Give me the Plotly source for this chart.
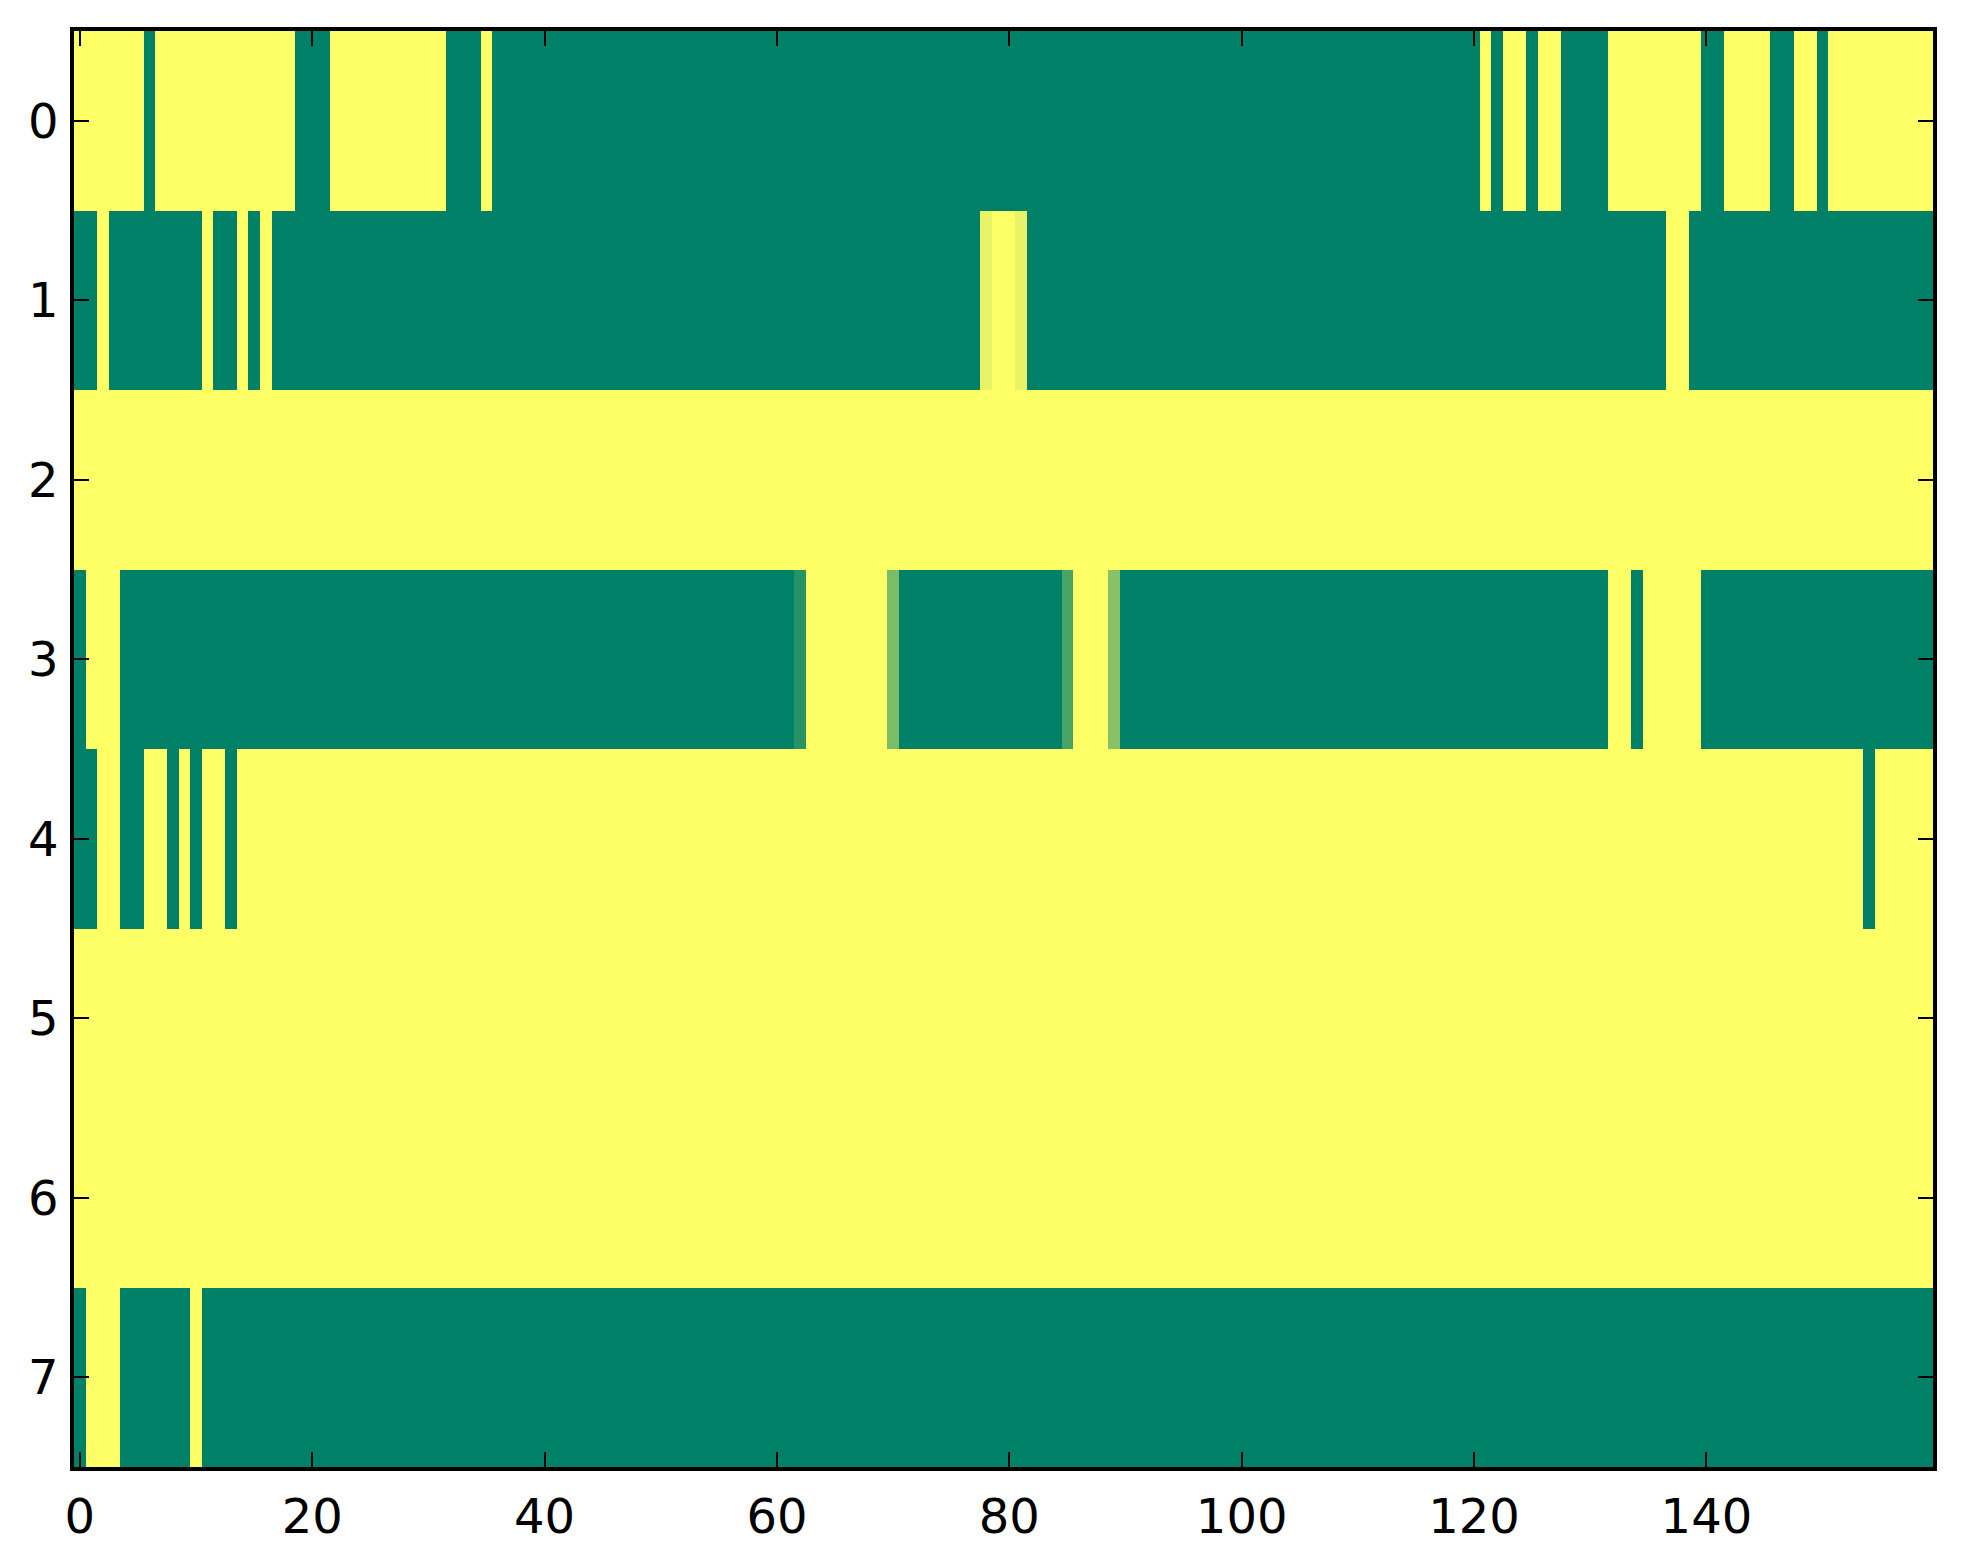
import plotly.graph_objects as go

# Column indices and row labels
columns = list(range(160))
rows = list(range(8))
x_tick_vals = [0, 20, 40, 60, 80, 100, 120, 140]
x_tick_text = ["0", "20", "40", "60", "80", "100", "120", "140"]
y_tick_vals = [0, 1, 2, 3, 4, 5, 6, 7]
y_tick_text = ["0", "1", "2", "3", "4", "5", "6", "7"]

# Cell values (0 = dark green, 1 = yellow), 20 columns per line
row0 = [1, 1, 1, 1, 1, 1, 0, 1, 1, 1, 1, 1, 1, 1, 1, 1, 1, 1, 1, 0,
        0, 0, 1, 1, 1, 1, 1, 1, 1, 1, 1, 1, 0, 0, 0, 1, 0, 0, 0, 0,
        0, 0, 0, 0, 0, 0, 0, 0, 0, 0, 0, 0, 0, 0, 0, 0, 0, 0, 0, 0,
        0, 0, 0, 0, 0, 0, 0, 0, 0, 0, 0, 0, 0, 0, 0, 0, 0, 0, 0, 0,
        0, 0, 0, 0, 0, 0, 0, 0, 0, 0, 0, 0, 0, 0, 0, 0, 0, 0, 0, 0,
        0, 0, 0, 0, 0, 0, 0, 0, 0, 0, 0, 0, 0, 0, 0, 0, 0, 0, 0, 0,
        0, 1, 0, 1, 1, 0, 1, 1, 0, 0, 0, 0, 1, 1, 1, 1, 1, 1, 1, 1,
        0, 0, 1, 1, 1, 1, 0, 0, 1, 1, 0, 1, 1, 1, 1, 1, 1, 1, 1, 1]

row1 = [0, 0, 1, 0, 0, 0, 0, 0, 0, 0, 0, 1, 0, 0, 1, 0, 1, 0, 0, 0,
        0, 0, 0, 0, 0, 0, 0, 0, 0, 0, 0, 0, 0, 0, 0, 0, 0, 0, 0, 0,
        0, 0, 0, 0, 0, 0, 0, 0, 0, 0, 0, 0, 0, 0, 0, 0, 0, 0, 0, 0,
        0, 0, 0, 0, 0, 0, 0, 0, 0, 0, 0, 0, 0, 0, 0, 0, 0, 0, 0.91, 1,
        1, 0.91, 0, 0, 0, 0, 0, 0, 0, 0, 0, 0, 0, 0, 0, 0, 0, 0, 0, 0,
        0, 0, 0, 0, 0, 0, 0, 0, 0, 0, 0, 0, 0, 0, 0, 0, 0, 0, 0, 0,
        0, 0, 0, 0, 0, 0, 0, 0, 0, 0, 0, 0, 0, 0, 0, 0, 0, 1, 1, 0,
        0, 0, 0, 0, 0, 0, 0, 0, 0, 0, 0, 0, 0, 0, 0, 0, 0, 0, 0, 0]

row2 = [1, 1, 1, 1, 1, 1, 1, 1, 1, 1, 1, 1, 1, 1, 1, 1, 1, 1, 1, 1,
        1, 1, 1, 1, 1, 1, 1, 1, 1, 1, 1, 1, 1, 1, 1, 1, 1, 1, 1, 1,
        1, 1, 1, 1, 1, 1, 1, 1, 1, 1, 1, 1, 1, 1, 1, 1, 1, 1, 1, 1,
        1, 1, 1, 1, 1, 1, 1, 1, 1, 1, 1, 1, 1, 1, 1, 1, 1, 1, 1, 1,
        1, 1, 1, 1, 1, 1, 1, 1, 1, 1, 1, 1, 1, 1, 1, 1, 1, 1, 1, 1,
        1, 1, 1, 1, 1, 1, 1, 1, 1, 1, 1, 1, 1, 1, 1, 1, 1, 1, 1, 1,
        1, 1, 1, 1, 1, 1, 1, 1, 1, 1, 1, 1, 1, 1, 1, 1, 1, 1, 1, 1,
        1, 1, 1, 1, 1, 1, 1, 1, 1, 1, 1, 1, 1, 1, 1, 1, 1, 1, 1, 1]

row3 = [0, 1, 1, 1, 0, 0, 0, 0, 0, 0, 0, 0, 0, 0, 0, 0, 0, 0, 0, 0,
        0, 0, 0, 0, 0, 0, 0, 0, 0, 0, 0, 0, 0, 0, 0, 0, 0, 0, 0, 0,
        0, 0, 0, 0, 0, 0, 0, 0, 0, 0, 0, 0, 0, 0, 0, 0, 0, 0, 0, 0,
        0, 0, 0.15, 1, 1, 1, 1, 1, 1, 1, 0.48, 0, 0, 0, 0, 0, 0, 0, 0, 0,
        0, 0, 0, 0, 0, 0.28, 1, 1, 1, 0.53, 0, 0, 0, 0, 0, 0, 0, 0, 0, 0,
        0, 0, 0, 0, 0, 0, 0, 0, 0, 0, 0, 0, 0, 0, 0, 0, 0, 0, 0, 0,
        0, 0, 0, 0, 0, 0, 0, 0, 0, 0, 0, 0, 1, 1, 0, 1, 1, 1, 1, 1,
        0, 0, 0, 0, 0, 0, 0, 0, 0, 0, 0, 0, 0, 0, 0, 0, 0, 0, 0, 0]

row4 = [0, 0, 1, 1, 0, 0, 1, 1, 0, 1, 0, 1, 1, 0, 1, 1, 1, 1, 1, 1,
        1, 1, 1, 1, 1, 1, 1, 1, 1, 1, 1, 1, 1, 1, 1, 1, 1, 1, 1, 1,
        1, 1, 1, 1, 1, 1, 1, 1, 1, 1, 1, 1, 1, 1, 1, 1, 1, 1, 1, 1,
        1, 1, 1, 1, 1, 1, 1, 1, 1, 1, 1, 1, 1, 1, 1, 1, 1, 1, 1, 1,
        1, 1, 1, 1, 1, 1, 1, 1, 1, 1, 1, 1, 1, 1, 1, 1, 1, 1, 1, 1,
        1, 1, 1, 1, 1, 1, 1, 1, 1, 1, 1, 1, 1, 1, 1, 1, 1, 1, 1, 1,
        1, 1, 1, 1, 1, 1, 1, 1, 1, 1, 1, 1, 1, 1, 1, 1, 1, 1, 1, 1,
        1, 1, 1, 1, 1, 1, 1, 1, 1, 1, 1, 1, 1, 1, 0, 1, 1, 1, 1, 1]

row5 = [1, 1, 1, 1, 1, 1, 1, 1, 1, 1, 1, 1, 1, 1, 1, 1, 1, 1, 1, 1,
        1, 1, 1, 1, 1, 1, 1, 1, 1, 1, 1, 1, 1, 1, 1, 1, 1, 1, 1, 1,
        1, 1, 1, 1, 1, 1, 1, 1, 1, 1, 1, 1, 1, 1, 1, 1, 1, 1, 1, 1,
        1, 1, 1, 1, 1, 1, 1, 1, 1, 1, 1, 1, 1, 1, 1, 1, 1, 1, 1, 1,
        1, 1, 1, 1, 1, 1, 1, 1, 1, 1, 1, 1, 1, 1, 1, 1, 1, 1, 1, 1,
        1, 1, 1, 1, 1, 1, 1, 1, 1, 1, 1, 1, 1, 1, 1, 1, 1, 1, 1, 1,
        1, 1, 1, 1, 1, 1, 1, 1, 1, 1, 1, 1, 1, 1, 1, 1, 1, 1, 1, 1,
        1, 1, 1, 1, 1, 1, 1, 1, 1, 1, 1, 1, 1, 1, 1, 1, 1, 1, 1, 1]

row6 = [1, 1, 1, 1, 1, 1, 1, 1, 1, 1, 1, 1, 1, 1, 1, 1, 1, 1, 1, 1,
        1, 1, 1, 1, 1, 1, 1, 1, 1, 1, 1, 1, 1, 1, 1, 1, 1, 1, 1, 1,
        1, 1, 1, 1, 1, 1, 1, 1, 1, 1, 1, 1, 1, 1, 1, 1, 1, 1, 1, 1,
        1, 1, 1, 1, 1, 1, 1, 1, 1, 1, 1, 1, 1, 1, 1, 1, 1, 1, 1, 1,
        1, 1, 1, 1, 1, 1, 1, 1, 1, 1, 1, 1, 1, 1, 1, 1, 1, 1, 1, 1,
        1, 1, 1, 1, 1, 1, 1, 1, 1, 1, 1, 1, 1, 1, 1, 1, 1, 1, 1, 1,
        1, 1, 1, 1, 1, 1, 1, 1, 1, 1, 1, 1, 1, 1, 1, 1, 1, 1, 1, 1,
        1, 1, 1, 1, 1, 1, 1, 1, 1, 1, 1, 1, 1, 1, 1, 1, 1, 1, 1, 1]

row7 = [0, 1, 1, 1, 0, 0, 0, 0, 0, 0, 1, 0, 0, 0, 0, 0, 0, 0, 0, 0,
        0, 0, 0, 0, 0, 0, 0, 0, 0, 0, 0, 0, 0, 0, 0, 0, 0, 0, 0, 0,
        0, 0, 0, 0, 0, 0, 0, 0, 0, 0, 0, 0, 0, 0, 0, 0, 0, 0, 0, 0,
        0, 0, 0, 0, 0, 0, 0, 0, 0, 0, 0, 0, 0, 0, 0, 0, 0, 0, 0, 0,
        0, 0, 0, 0, 0, 0, 0, 0, 0, 0, 0, 0, 0, 0, 0, 0, 0, 0, 0, 0,
        0, 0, 0, 0, 0, 0, 0, 0, 0, 0, 0, 0, 0, 0, 0, 0, 0, 0, 0, 0,
        0, 0, 0, 0, 0, 0, 0, 0, 0, 0, 0, 0, 0, 0, 0, 0, 0, 0, 0, 0,
        0, 0, 0, 0, 0, 0, 0, 0, 0, 0, 0, 0, 0, 0, 0, 0, 0, 0, 0, 0]

z = [row0, row1, row2, row3, row4, row5, row6, row7]

# matplotlib "summer" colormap
summer = [[0.0, "rgb(0,128,102)"], [1.0, "rgb(255,255,102)"]]

fig = go.Figure(
    go.Heatmap(
        z=z,
        x=columns,
        y=rows,
        colorscale=summer,
        zmin=0,
        zmax=1,
        showscale=False,
        zsmooth=False,
        hoverinfo="x+y+z",
    )
)

axis_common = dict(
    showgrid=False,
    zeroline=False,
    showline=True,
    linecolor="black",
    linewidth=3.5,
    mirror="allticks",
    ticks="inside",
    ticklen=15,
    tickwidth=2,
    tickcolor="black",
    tickfont=dict(family="DejaVu Sans", size=48, color="black"),
)

fig.update_layout(
    width=1947,
    height=1548,
    margin=dict(l=66, r=22, t=23, b=87),
    paper_bgcolor="white",
    plot_bgcolor="white",
    font=dict(family="DejaVu Sans", color="black"),
    xaxis=dict(
        range=[-0.5, 159.5],
        tickmode="array",
        tickvals=x_tick_vals,
        ticktext=x_tick_text,
        ticklabelstandoff=5,
        **axis_common,
    ),
    yaxis=dict(
        range=[7.5, -0.5],
        tickmode="array",
        tickvals=y_tick_vals,
        ticktext=y_tick_text,
        ticklabelstandoff=2,
        **axis_common,
    ),
)

fig.write_html("out.html")
